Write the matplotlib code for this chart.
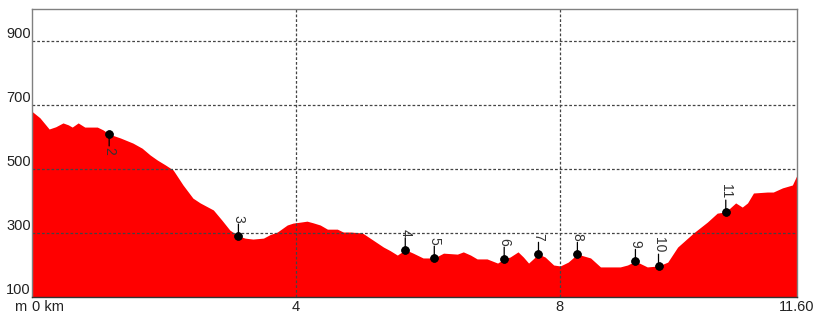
import matplotlib
matplotlib.use("Agg")
import matplotlib.pyplot as plt

plt.rcParams['font.family'] = ['Liberation Sans', 'DejaVu Sans']

# profil: distance (km) / altitude (m)
dist_km = [0.00, 0.12, 0.26, 0.36, 0.47, 0.55, 0.61, 0.70, 0.80, 0.99, 1.08, 1.17,
           1.34, 1.53, 1.67, 1.79, 1.90, 2.02, 2.14, 2.29, 2.44, 2.55, 2.75, 2.88,
           3.00, 3.13, 3.23, 3.35, 3.51, 3.61, 3.72, 3.87, 3.96, 4.07, 4.17, 4.26,
           4.37, 4.48, 4.63, 4.72, 4.83, 5.01, 5.17, 5.33, 5.43, 5.54, 5.66, 5.78,
           5.93, 6.10, 6.24, 6.45, 6.54, 6.65, 6.75, 6.90, 7.06, 7.16, 7.25, 7.37,
           7.45, 7.53, 7.68, 7.78, 7.91, 8.01, 8.13, 8.27, 8.47, 8.62, 8.92, 9.03,
           9.15, 9.33, 9.50, 9.64, 9.79, 10.03, 10.24, 10.39, 10.52, 10.67, 10.77,
           10.85, 10.94, 11.15, 11.24, 11.38, 11.53, 11.60]
alt_m = [680, 660, 625, 632, 644, 638, 631, 644, 631, 631, 622, 609,
         597, 581, 565, 544, 528, 513, 497, 450, 409, 394, 372, 340,
         309, 291, 284, 281, 284, 295, 303, 325, 331, 334, 337, 332,
         325, 312, 312, 303, 303, 300, 278, 256, 245, 231, 248, 237,
         222, 222, 237, 234, 241, 231, 219, 219, 206, 219, 225, 241,
         225, 206, 234, 225, 200, 197, 209, 234, 222, 194, 194, 200,
         212, 194, 197, 209, 256, 300, 334, 362, 366, 394, 381,
         394, 425, 428, 428, 441, 450, 481]

# points de passage
wp_names = ['2', '3', '4', '5', '6', '7', '8', '9', '10', '11']
wp_km = [1.17, 3.13, 5.66, 6.10, 7.16, 7.68, 8.27, 9.15, 9.50, 10.52]
wp_alt = [609, 291, 248, 222, 219, 234, 234, 212, 197, 366]

yticks = [100, 300, 500, 700, 900]
xticks = [0, 4, 8, 11.6]
xlabels = ['0 km', '4', '8', '11.60']

fig = plt.figure(figsize=(8.17, 3.13), dpi=100)
ax = fig.add_axes([32/817, 16/313, 765/817, 288/313])

ax.fill_between(dist_km, alt_m, 100, color='#ff0000', lw=0, zorder=1)
ax.set_xlim(0, 11.6)
ax.set_ylim(100, 1000)

for y in yticks[1:]:
    ax.axhline(y, color='#444444', lw=0.9, dashes=(2.2, 1.6), zorder=2)
for x in xticks[1:3]:
    ax.axvline(x, color='#444444', lw=0.9, dashes=(2.2, 1.6), zorder=2)

for name, x, y in zip(wp_names, wp_km, wp_alt):
    down = name == '2'
    off = -8.5 if down else 8.5
    ax.plot([x, x], [y, y], 'o', color='black', ms=5, zorder=4)
    ax.annotate('', xy=(x, y), xytext=(0, off), textcoords='offset points',
                arrowprops=dict(arrowstyle='-', color='black', lw=0.9,
                                shrinkA=0, shrinkB=0), zorder=3)
    ax.annotate(name, xy=(x, y), xytext=(0, off + (-1 if down else 1)),
                textcoords='offset points', rotation=-90, ha='center',
                va='top' if down else 'bottom', fontsize=10, color='#333333')

ax.set_yticks(yticks)
ax.set_xticks(xticks)
ax.set_xticklabels(xlabels)
ax.tick_params(length=0, labelsize=10.5, colors='#222222')
ax.tick_params(axis='y', pad=1)
ax.tick_params(axis='x', pad=2)
plt.setp(ax.get_yticklabels(), va='bottom')
labs = ax.get_xticklabels()
labs[0].set_ha('left')
ax.text(-0.0075, -0.012, 'm', transform=ax.transAxes, ha='right', va='top',
        fontsize=10.5, color='#222222')

for s in ax.spines.values():
    s.set_color('#808080')
    s.set_linewidth(1)
ax.spines['bottom'].set_color('#333333')

fig.savefig('out.png', dpi=100)
